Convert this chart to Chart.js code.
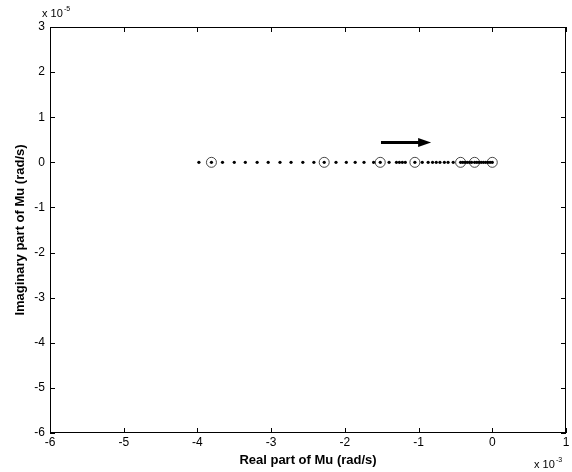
<!DOCTYPE html>
<html>
<head>
<meta charset="utf-8">
<script src="https://cdn.jsdelivr.net/npm/chart.js@4.4.0/dist/chart.umd.min.js"></script>
<style>
  html, body { margin: 0; padding: 0; background: #fff; }
  #wrap { width: 572px; height: 472px; }
</style>
</head>
<body>
<div id="wrap"><canvas id="muChart" width="572" height="472"></canvas></div>
<script>
// Real part of Mu (x 10^-3 rad/s) for each computed point, imaginary part is 0
const dotX = [
  -3.98, -3.81, -3.66, -3.50, -3.35, -3.19, -3.04, -2.88, -2.73, -2.57, -2.42,
  -2.28, -2.12, -1.98, -1.86, -1.74, -1.61, -1.52, -1.40, -1.30, -1.26, -1.22,
  -1.18, -1.05, -0.95, -0.87, -0.81, -0.76, -0.71, -0.65, -0.60, -0.53, -0.43,
  -0.40, -0.37, -0.34, -0.31, -0.28, -0.24, -0.21, -0.18, -0.15, -0.12, -0.09,
  -0.06, -0.03, 0.0
];
// highlighted (circled) points
const circleX = [-3.81, -2.28, -1.52, -1.05, -0.43, -0.24, 0.0];
// arrow start / end (x 10^-3, x 10^-5)
const arrowX = [-1.51, -0.83];
const arrowY = [0.44, 0.44];

const xTicks = [-6, -5, -4, -3, -2, -1, 0, 1];
const yTicks = [3, 2, 1, 0, -1, -2, -3, -4, -5, -6];

const fontName = "'Liberation Sans', Arial, Helvetica, sans-serif";

// box, inward ticks, exponent labels and arrow
const matlabAxes = {
  id: 'matlabAxes',
  afterDatasetsDraw(chart) {
    const { ctx, chartArea: a, scales } = chart;
    const xs = scales.x, ys = scales.y;
    ctx.save();
    ctx.strokeStyle = '#000';
    ctx.lineWidth = 1;
    ctx.strokeRect(a.left + 0.5, a.top + 0.5, a.right - a.left - 1, a.bottom - a.top - 1);
    ctx.beginPath();
    xTicks.forEach(v => {
      const px = Math.round(xs.getPixelForValue(v)) + 0.5;
      ctx.moveTo(px, a.bottom); ctx.lineTo(px, a.bottom - 5);
      ctx.moveTo(px, a.top); ctx.lineTo(px, a.top + 5);
    });
    yTicks.forEach(v => {
      const py = Math.round(ys.getPixelForValue(v)) + 0.5;
      ctx.moveTo(a.left, py); ctx.lineTo(a.left + 5, py);
      ctx.moveTo(a.right, py); ctx.lineTo(a.right - 5, py);
    });
    ctx.stroke();

    // exponent labels
    ctx.fillStyle = '#000';
    ctx.textBaseline = 'alphabetic';
    ctx.textAlign = 'left';
    ctx.font = '11px ' + fontName;
    ctx.fillText('x 10', a.left - 8, a.top - 10);
    ctx.fillText('x 10', a.right - 32, a.bottom + 35);
    ctx.font = '7px ' + fontName;
    ctx.fillText('-5', a.left + 14, a.top - 16);
    ctx.fillText('-3', a.right - 10, a.bottom + 29);

    // arrow
    const x0 = xs.getPixelForValue(arrowX[0]), x1 = xs.getPixelForValue(arrowX[1]);
    const y0 = ys.getPixelForValue(arrowY[0]), y1 = ys.getPixelForValue(arrowY[1]);
    ctx.lineWidth = 3;
    ctx.beginPath();
    ctx.moveTo(x0, y0); ctx.lineTo(x1 - 10, y1);
    ctx.stroke();
    ctx.beginPath();
    ctx.moveTo(x1, y1);
    ctx.lineTo(x1 - 13, y1 - 4.5);
    ctx.lineTo(x1 - 13, y1 + 4.5);
    ctx.closePath();
    ctx.fill();
    ctx.restore();
  }
};

new Chart(document.getElementById('muChart').getContext('2d'), {
  type: 'scatter',
  data: {
    datasets: [{
      label: 'points',
      data: dotX.map(v => ({ x: v, y: 0 })),
      pointRadius: 1.6,
      pointBackgroundColor: '#000',
      pointBorderWidth: 0,
      showLine: false
    }, {
      label: 'circled',
      data: circleX.map(v => ({ x: v, y: 0 })),
      pointRadius: 5,
      pointBackgroundColor: 'rgba(0,0,0,0)',
      pointBorderColor: '#333',
      pointBorderWidth: 0.9,
      showLine: false
    }]
  },
  options: {
    responsive: false,
    animation: false,
    events: [],
    layout: { padding: { top: 27, right: 6, left: 0, bottom: 0 } },
    plugins: { legend: { display: false }, tooltip: { enabled: false } },
    scales: {
      x: {
        type: 'linear', min: -6, max: 1,
        afterBuildTicks: s => { s.ticks = xTicks.map(v => ({ value: v })); },
        afterFit: s => { s.height = 39; },
        grid: { display: false, drawTicks: false, tickLength: 0 },
        border: { display: false },
        ticks: { color: '#000', font: { family: fontName, size: 12 }, padding: 2, maxRotation: 0 },
        title: { display: true, text: 'Real part of Mu (rad/s)', color: '#000',
                 font: { family: fontName, size: 13, weight: 'bold' }, padding: { top: 0, bottom: 4 } }
      },
      y: {
        type: 'linear', min: -6, max: 3,
        afterBuildTicks: s => { s.ticks = yTicks.map(v => ({ value: v })); },
        afterFit: s => { s.width = 50; },
        grid: { display: false, drawTicks: false, tickLength: 0 },
        border: { display: false },
        ticks: { color: '#000', font: { family: fontName, size: 12 }, padding: 5 },
        title: { display: true, text: 'Imaginary part of Mu (rad/s)', color: '#000',
                 font: { family: fontName, size: 13, weight: 'bold' }, padding: { top: 13, bottom: 0 } }
      }
    }
  },
  plugins: [matlabAxes]
});
</script>
</body>
</html>
